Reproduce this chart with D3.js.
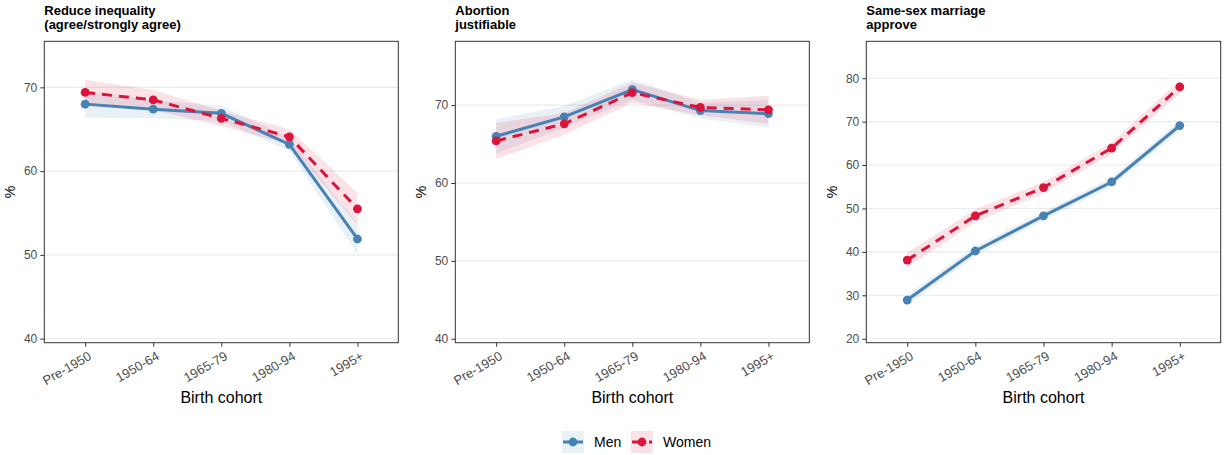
<!DOCTYPE html>
<html>
<head>
<meta charset="utf-8">
<script src="https://cdn.jsdelivr.net/npm/d3@7"></script>
<style>
  html, body { margin: 0; padding: 0; background: #fff; }
  svg { display: block; font-family: "Liberation Sans", Arial, Helvetica, sans-serif; }
</style>
</head>
<body>
<svg id="chart" width="1225" height="455"></svg>
<script>
// ---------- DATA ----------
const cohorts = ["Pre-1950", "1950-64", "1965-79", "1980-94", "1995+"];

const panelTitles = [
  ["Reduce inequality", "(agree/strongly agree)"],
  ["Abortion", "justifiable"],
  ["Same-sex marriage", "approve"]
];

const ineqMen      = [68.0, 67.4, 66.9, 63.2, 51.9];
const ineqWomen    = [69.4, 68.5, 66.3, 64.1, 55.5];
const ineqMenCI    = [1.6, 1.1, 0.9, 0.8, 1.8];
const ineqWomenCI  = [1.5, 1.2, 0.9, 0.9, 1.9];

const abortMen     = [66.0, 68.5, 72.0, 69.3, 68.9];
const abortWomen   = [65.4, 67.6, 71.6, 69.7, 69.4];
const abortMenCI   = [2.2, 1.4, 1.3, 1.0, 1.8];
const abortWomenCI = [2.3, 1.4, 1.3, 1.0, 1.8];

const ssmMen       = [28.9, 40.2, 48.3, 56.1, 69.1];
const ssmWomen     = [38.1, 48.3, 54.8, 63.9, 78.0];
const ssmMenCI     = [1.2, 1.1, 1.0, 1.0, 1.2];
const ssmWomenCI   = [1.7, 1.5, 1.3, 1.3, 1.6];

const yTicks1 = [40, 50, 60, 70];
const yTicks2 = [40, 50, 60, 70];
const yTicks3 = [20, 30, 40, 50, 60, 70, 80];

const yDomains = [[39.52, 75.5], [39.49, 78.2], [19.08, 88.5]];

const seriesNames = ["Men", "Women"];
const colors = { Men: "#4682B4", Women: "#DC143C" };

// ---------- LAYOUT ----------
const svg = d3.select("#chart");
const panelsX = [[44.3, 398.3], [455.3, 809.3], [866.3, 1220.7]];
const panelTop = 41.3, panelBottom = 342.7;

const panels = [
  { title: panelTitles[0], men: ineqMen, women: ineqWomen, menCI: ineqMenCI, womenCI: ineqWomenCI, ticks: yTicks1 },
  { title: panelTitles[1], men: abortMen, women: abortWomen, menCI: abortMenCI, womenCI: abortWomenCI, ticks: yTicks2 },
  { title: panelTitles[2], men: ssmMen, women: ssmWomen, menCI: ssmMenCI, womenCI: ssmWomenCI, ticks: yTicks3 }
];

panels.forEach((p, i) => {
  const [x0, x1] = panelsX[i];
  const x = d3.scalePoint().domain(cohorts).range([x0, x1]).padding(0.6);
  const y = d3.scaleLinear().domain(yDomains[i]).range([panelBottom, panelTop]);
  const g = svg.append("g");

  // title
  p.title.forEach((t, k) => {
    g.append("text").attr("x", x0).attr("y", 15 + k * 14)
      .attr("font-size", 13).attr("font-weight", "bold").attr("fill", "#000")
      .text(t);
  });

  // gridlines
  g.selectAll(".grid").data(p.ticks).join("line")
    .attr("x1", x0).attr("x2", x1)
    .attr("y1", d => y(d)).attr("y2", d => y(d))
    .attr("stroke", "#EBEBEB").attr("stroke-width", 1.1);

  // y axis
  const yAxis = g.append("g").attr("transform", `translate(${x0},0)`)
    .call(d3.axisLeft(y).tickValues(p.ticks).tickSize(4).tickPadding(3));
  yAxis.select(".domain").remove();
  yAxis.selectAll(".tick line").attr("stroke", "#333");
  yAxis.selectAll(".tick text").attr("font-size", 12).attr("fill", "#4D4D4D")
    .attr("font-family", "Liberation Sans, Arial, sans-serif");

  // x axis
  const xAxis = g.append("g").attr("transform", `translate(0,${panelBottom})`)
    .call(d3.axisBottom(x).tickSize(4).tickPadding(3));
  xAxis.select(".domain").remove();
  xAxis.selectAll(".tick line").attr("stroke", "#333");
  xAxis.selectAll(".tick text")
    .attr("font-size", 13).attr("fill", "#4D4D4D")
    .attr("font-family", "Liberation Sans, Arial, sans-serif")
    .attr("text-anchor", "end")
    .attr("x", 0).attr("y", 0)
    .attr("dy", "0.71em")
    .attr("transform", "translate(2,8) rotate(-30)");

  // ribbons, lines, points
  const series = [
    { name: "Men", vals: p.men, ci: p.menCI, dash: null },
    { name: "Women", vals: p.women, ci: p.womenCI, dash: "10,7" }
  ];
  const area = d3.area()
    .x((d, j) => x(cohorts[j]))
    .y0(d => y(d[0] - d[1]))
    .y1(d => y(d[0] + d[1]));
  series.forEach(s => {
    const dat = s.vals.map((v, j) => [v, s.ci[j]]);
    g.append("path").attr("d", area(dat))
      .attr("fill", colors[s.name]).attr("fill-opacity", 0.12);
  });
  const line = d3.line().x((d, j) => x(cohorts[j])).y(d => y(d));
  series.forEach(s => {
    g.append("path").attr("d", line(s.vals))
      .attr("fill", "none").attr("stroke", colors[s.name])
      .attr("stroke-width", 3)
      .attr("stroke-dasharray", s.dash);
    g.selectAll(null).data(s.vals).join("circle")
      .attr("cx", (d, j) => x(cohorts[j])).attr("cy", d => y(d))
      .attr("r", 4.4).attr("fill", colors[s.name]);
  });

  // panel border
  g.append("rect").attr("x", x0).attr("y", panelTop)
    .attr("width", x1 - x0).attr("height", panelBottom - panelTop)
    .attr("fill", "none").attr("stroke", "#333").attr("stroke-width", 1);

  // axis titles
  g.append("text").attr("x", (x0 + x1) / 2).attr("y", 403)
    .attr("text-anchor", "middle").attr("font-size", 16).attr("fill", "#000")
    .text("Birth cohort");
  const labX = [10.5, 421.5, 832.5][i];
  g.append("text").attr("transform", `translate(${labX + 4.5},${(panelTop + panelBottom) / 2}) rotate(-90)`)
    .attr("text-anchor", "middle").attr("font-size", 14).attr("fill", "#000")
    .text("%");
});

// ---------- LEGEND ----------
const leg = svg.append("g");
const legItems = [
  { name: "Men", kx: 562, tx: 594 },
  { name: "Women", kx: 631, tx: 663 }
];
legItems.forEach(it => {
  const c = colors[it.name];
  leg.append("rect").attr("x", it.kx).attr("y", 431).attr("width", 22).attr("height", 22)
    .attr("fill", c).attr("fill-opacity", 0.12);
  leg.append("line").attr("x1", it.kx + 1).attr("x2", it.kx + 21)
    .attr("y1", 442).attr("y2", 442)
    .attr("stroke", c).attr("stroke-width", 3)
    .attr("stroke-dasharray", it.name === "Women" ? "10,7" : null);
  leg.append("circle").attr("cx", it.kx + 11).attr("cy", 442).attr("r", 4.4).attr("fill", c);
  leg.append("text").attr("x", it.tx).attr("y", 447).attr("font-size", 14).attr("fill", "#000")
    .text(it.name);
});
</script>
</body>
</html>
